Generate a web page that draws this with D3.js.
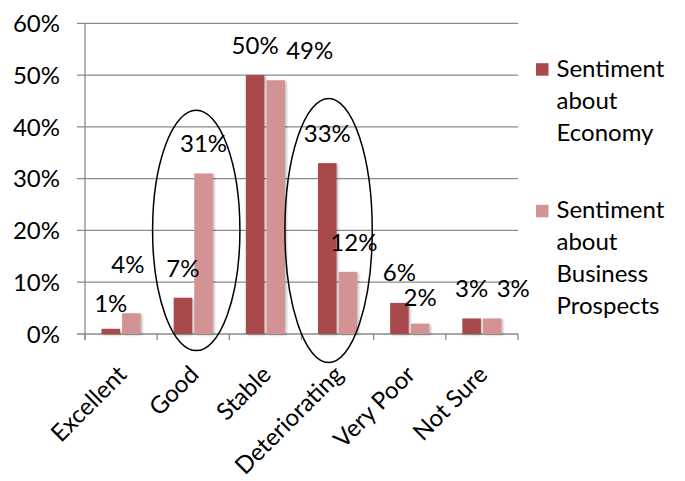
<!DOCTYPE html>
<html>
<head>
<meta charset="utf-8">
<script src="https://cdn.jsdelivr.net/npm/d3@7/dist/d3.min.js"></script>
<style>
  html, body { margin: 0; padding: 0; background: #fff; }
  svg { display: block; font-family: Lato, "Open Sans", sans-serif; }
</style>
</head>
<body>
<svg id="chart" width="685" height="481"></svg>
<script>
// Survey answers, in percent
const categories = ["Excellent", "Good", "Stable", "Deteriorating", "Very Poor", "Not Sure"];
const seriesNames = ["Sentiment about Economy", "Sentiment about Business Prospects"];
const economy = [1, 7, 50, 33, 6, 3];
const business = [4, 31, 49, 12, 2, 3];
const yTicks = [0, 10, 20, 30, 40, 50, 60];

// Legend text, broken over lines
const legendLines = [["Sentiment", "about", "Economy"], ["Sentiment", "about", "Business", "Prospects"]];

// Circled categories (vertical extent in percent)
const highlights = [
  { category: "Good", top: 43.2, bottom: -3.2 },
  { category: "Deteriorating", top: 45.5, bottom: -5.5 }
];

// Small hand nudges for value labels that would collide [dx, dy]
const nudgeEconomy = [[0, 4], [0, 0], [0, 0], [0, 0], [0, -1], [0, 0]];
const nudgeBusiness = [[-3.5, -19], [0, 0], [34, 0], [6, 0], [0, 3], [21, 0]];

const colors = ["#A8494B", "#D39394"];
const FONT = 24;

const svg = d3.select("#chart");
const margin = { left: 85, right: 167, top: 23.3, bottom: 147 };
const W = 685, H = 481;

const x0 = d3.scaleBand().domain(categories)
  .range([margin.left, W - margin.right]).paddingInner(0).paddingOuter(0);
const x1 = d3.scaleBand().domain([0, 1])
  .range([0, x0.bandwidth()]).paddingInner(0.1).paddingOuter(0.8);
const y = d3.scaleLinear().domain([0, 60]).range([H - margin.bottom, margin.top]);

const defs = svg.append("defs");
const f = defs.append("filter").attr("id", "shadow")
  .attr("x", "-30%").attr("y", "-10%").attr("width", "160%").attr("height", "120%");
f.append("feDropShadow").attr("dx", 1.5).attr("dy", 1).attr("stdDeviation", 1)
  .attr("flood-color", "#000").attr("flood-opacity", 0.28);

// Horizontal gridlines (extend left as ticks)
const grid = svg.append("g");
grid.selectAll("line").data(yTicks).join("line")
  .attr("x1", margin.left - 8).attr("x2", W - margin.right)
  .attr("y1", d => y(d)).attr("y2", d => y(d))
  .attr("stroke", "#8a8a8a").attr("stroke-width", 1.3);

// Y axis line
svg.append("line")
  .attr("x1", margin.left).attr("x2", margin.left)
  .attr("y1", y(60)).attr("y2", y(0) + 6)
  .attr("stroke", "#8a8a8a").attr("stroke-width", 1.3);

// X axis ticks at category boundaries
const bounds = categories.map(c => x0(c)).concat([x0(categories[categories.length - 1]) + x0.bandwidth()]);
svg.append("g").selectAll("line").data(bounds).join("line")
  .attr("x1", d => d).attr("x2", d => d)
  .attr("y1", y(0)).attr("y2", y(0) + 6)
  .attr("stroke", "#8a8a8a").attr("stroke-width", 1.3);

// Y tick labels
svg.append("g").selectAll("text").data(yTicks).join("text")
  .attr("x", margin.left - 25).attr("y", d => y(d))
  .attr("dy", "0.36em").attr("text-anchor", "end")
  .attr("font-size", FONT).attr("fill", "#000")
  .text(d => d + "%");

// Bars
const series = [economy, business];
const nudges = [nudgeEconomy, nudgeBusiness];
const barData = [];
series.forEach((vals, s) => vals.forEach((v, i) => barData.push({ s, i, v, c: categories[i] })));

svg.append("g").attr("filter", "url(#shadow)")
  .selectAll("rect").data(barData).join("rect")
  .attr("x", d => x0(d.c) + x1(d.s))
  .attr("width", x1.bandwidth())
  .attr("y", d => y(d.v))
  .attr("height", d => y(0) - y(d.v))
  .attr("fill", d => colors[d.s]);

// Value labels
svg.append("g").selectAll("text").data(barData).join("text")
  .attr("x", d => x0(d.c) + x1(d.s) + x1.bandwidth() / 2 + nudges[d.s][d.i][0])
  .attr("y", d => y(d.v) - 21 + nudges[d.s][d.i][1])
  .attr("text-anchor", "middle").attr("font-size", FONT).attr("fill", "#000")
  .text(d => d.v + "%");

// Category labels, rotated
svg.append("g").selectAll("text").data(categories).join("text")
  .attr("transform", d => `translate(${x0(d) + x0.bandwidth() / 2 + 7},${y(0) + 42}) rotate(-45)`)
  .attr("text-anchor", "end").attr("font-size", FONT).attr("fill", "#000")
  .text(d => d);

// Ellipses around the highlighted categories
svg.append("g").selectAll("ellipse").data(highlights).join("ellipse")
  .attr("cx", (d, k) => x0(d.category) + x0.bandwidth() / 2 + (k === 0 ? 3 : -9))
  .attr("cy", d => (y(d.top) + y(d.bottom)) / 2)
  .attr("rx", x0.bandwidth() * 0.605)
  .attr("ry", d => (y(d.bottom) - y(d.top)) / 2)
  .attr("fill", "none").attr("stroke", "#000").attr("stroke-width", 1.5);

// Legend
const legend = svg.append("g");
const legendTop = [76.7, 218.3];
const lineH = 32;
legendLines.forEach((lines, s) => {
  const g = legend.append("g").attr("aria-label", seriesNames[s]);
  g.append("rect").attr("x", 536).attr("y", legendTop[s] - 13.5)
    .attr("width", 12.5).attr("height", 12.5).attr("fill", colors[s]);
  g.selectAll("text").data(lines).join("text")
    .attr("x", 556.5).attr("y", (d, k) => legendTop[s] + k * lineH)
    .attr("font-size", FONT).attr("fill", "#000")
    .text(d => d);
});
</script>
</body>
</html>
